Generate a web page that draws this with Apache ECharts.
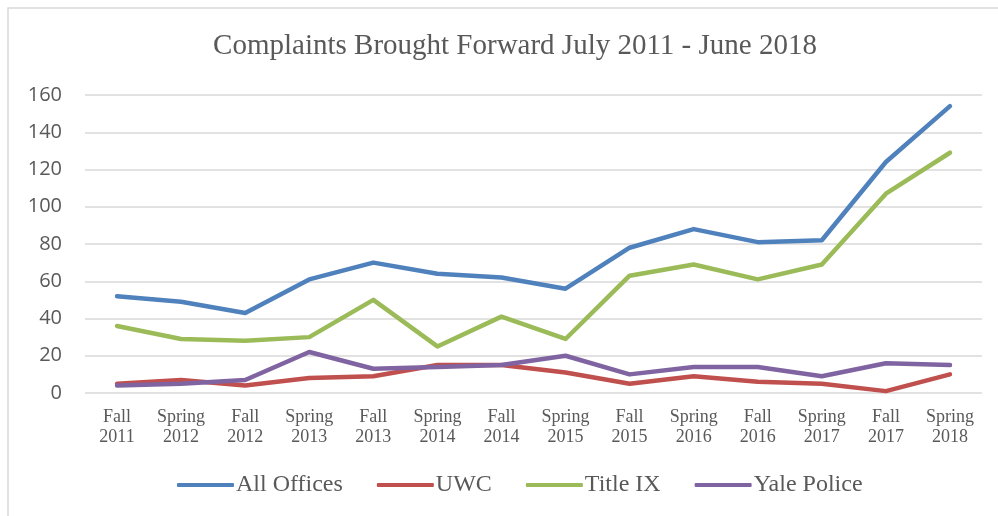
<!DOCTYPE html>
<html><head><meta charset="utf-8">
<script src="https://cdn.jsdelivr.net/npm/echarts@6/dist/echarts.min.js"></script>
<style>html,body{margin:0;padding:0;background:#fff}#c{width:998px;height:516px}</style>
</head><body><div id="c"></div>
<script>
const categories = ['Fall\n2011','Spring\n2012','Fall\n2012','Spring\n2013','Fall\n2013','Spring\n2014','Fall\n2014','Spring\n2015','Fall\n2015','Spring\n2016','Fall\n2016','Spring\n2017','Fall\n2017','Spring\n2018'];
const allOffices = [52, 49, 43, 61, 70, 64, 62, 56, 78, 88, 81, 82, 124, 154];
const uwc = [5, 7, 4, 8, 9, 15, 15, 11, 5, 9, 6, 5, 1, 10];
const titleIX = [36, 29, 28, 30, 50, 25, 41, 29, 63, 69, 61, 69, 107, 129];
const yalePolice = [4, 5, 7, 22, 13, 14, 15, 20, 10, 14, 14, 9, 16, 15];
const seriesNames = ['All Offices', 'UWC', 'Title IX', 'Yale Police'];
const colors = ['#4F81BD', '#C0504D', '#9BBB59', '#8064A2'];
const dataSets = [allOffices, uwc, titleIX, yalePolice];

const chart = echarts.init(document.getElementById('c'), null, {renderer: 'canvas'});
chart.setOption({
  animation: false,
  color: colors,
  graphic: [{type: 'rect', shape: {x: 8, y: 8, width: 1100, height: 600}, style: {fill: 'none', stroke: '#d9d9d9', lineWidth: 1.5}, silent: true}],
  title: {
    text: 'Complaints Brought Forward July 2011 - June 2018',
    left: 510, top: 27, textAlign: 'center',
    textStyle: {fontFamily: 'Liberation Serif', fontSize: 29, fontWeight: 'normal', color: '#595959'}
  },
  legend: {
    data: seriesNames, bottom: 14, left: 172,
    itemWidth: 57, itemHeight: 4, itemGap: 34,
    icon: 'roundRect',
    textStyle: {fontFamily: 'Liberation Serif', fontSize: 24, color: '#595959', padding: [0, 0, 0, -3]}
  },
  grid: {left: 85, right: 16, top: 95, bottom: 123},
  xAxis: {
    type: 'category', data: categories, boundaryGap: true,
    axisLine: {show: false}, axisTick: {show: false},
    axisLabel: {fontFamily: 'Liberation Serif', fontSize: 18, color: '#595959', lineHeight: 20, margin: 14, interval: 0}
  },
  yAxis: {
    type: 'value', min: 0, max: 160, interval: 20,
    axisLine: {show: false}, axisTick: {show: false},
    splitLine: {lineStyle: {color: '#d9d9d9', width: 1.5}},
    axisLabel: {fontFamily: 'Open Sans', fontSize: 20, color: '#595959', margin: 23}
  },
  series: dataSets.map((d, i) => ({
    name: seriesNames[i], type: 'line', data: d,
    symbol: 'none', lineStyle: {width: 4.5, cap: 'round', join: 'round'},
    z: i === 3 ? 5 : (i === 1 ? 4 : 3)
  }))
});
</script></body></html>
